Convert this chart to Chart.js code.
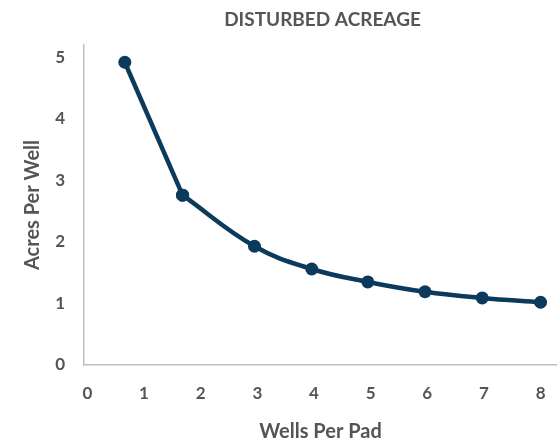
<!DOCTYPE html>
<html><head><meta charset="utf-8">
<script src="https://cdn.jsdelivr.net/npm/chart.js@4"></script>
<style>html,body{margin:0;padding:0;background:#fff}#wrap{width:557px;height:444px}</style>
</head><body><div id="wrap"><canvas id="c" width="557" height="444"></canvas></div>
<script>
const chartTitle = 'DISTURBED ACREAGE';
const xAxisTitle = 'Wells Per Pad';
const yAxisTitle = 'Acres Per Well';
const wellsPerPad = [0.66, 1.68, 2.95, 3.96, 4.95, 5.96, 6.97, 8];
const acresPerWell = [4.92, 2.76, 1.93, 1.56, 1.35, 1.19, 1.09, 1.02];
const xTickValues = [0, 1, 2, 3, 4, 5, 6, 7, 8];
const yTickValues = [0, 1, 2, 3, 4, 5];

const textColor = '#555555';
const lineColor = '#0c3a5c';
const fontFamily = 'Lato';

const points = wellsPerPad.map((x, i) => ({ x: x, y: acresPerWell[i] }));

const topTitle = {
  id: 'topTitle',
  afterDraw(chart) {
    const { ctx, chartArea } = chart;
    ctx.save();
    ctx.font = 'bold 19px ' + fontFamily;
    ctx.fillStyle = textColor;
    ctx.textAlign = 'center';
    ctx.textBaseline = 'middle';
    ctx.fillText(chartTitle, (chartArea.left + chartArea.right) / 2 + 2, 20);
    ctx.restore();
  }
};

const baseDs = {
  borderColor: lineColor,
  backgroundColor: lineColor,
  borderWidth: 4.5,
  pointRadius: 6.5,
  pointBorderWidth: 0,
  pointBackgroundColor: lineColor,
  fill: false
};

new Chart(document.getElementById('c'), {
  type: 'line',
  data: {
    datasets: [
      Object.assign({}, baseDs, { data: points.slice(0, 2), tension: 0 }),
      Object.assign({}, baseDs, { data: points.slice(1), tension: 0.4 })
    ]
  },
  options: {
    responsive: false,
    devicePixelRatio: 1,
    animation: false,
    layout: { autoPadding: false, padding: { top: 45, right: 0, bottom: 0, left: 0 } },
    plugins: { legend: { display: false }, tooltip: { enabled: false }, title: { display: false } },
    scales: {
      x: {
        type: 'linear',
        min: -0.06,
        max: 8.29,
        afterBuildTicks: s => { s.ticks = xTickValues.map(v => ({ value: v })); },
        afterFit: s => { s.height = 79; s.paddingLeft = 0; s.paddingRight = 0; },
        grid: { display: false, drawTicks: false },
        border: { display: true, color: '#bfbfbf', width: 1.5 },
        ticks: { padding: 18, color: textColor, font: { family: fontFamily, size: 17, weight: 'bold' }, maxRotation: 0 },
        title: { display: true, text: xAxisTitle, color: textColor, font: { family: fontFamily, size: 20, weight: 'bold' }, padding: { top: 0, bottom: 0 } }
      },
      y: {
        type: 'linear',
        min: 0,
        max: 5.2,
        afterBuildTicks: s => { s.ticks = yTickValues.map(v => ({ value: v })); },
        afterFit: s => { s.width = 84; s.paddingTop = 0; s.paddingBottom = 0; },
        grid: { display: false, drawTicks: false },
        border: { display: true, color: '#bfbfbf', width: 1.5 },
        ticks: { padding: 19, color: textColor, font: { family: fontFamily, size: 17, weight: 'bold' } },
        title: { display: true, text: yAxisTitle, color: textColor, font: { family: fontFamily, size: 20, weight: 'bold' }, padding: { top: 21, bottom: 0 } }
      }
    }
  },
  plugins: [topTitle]
});
</script></body></html>
